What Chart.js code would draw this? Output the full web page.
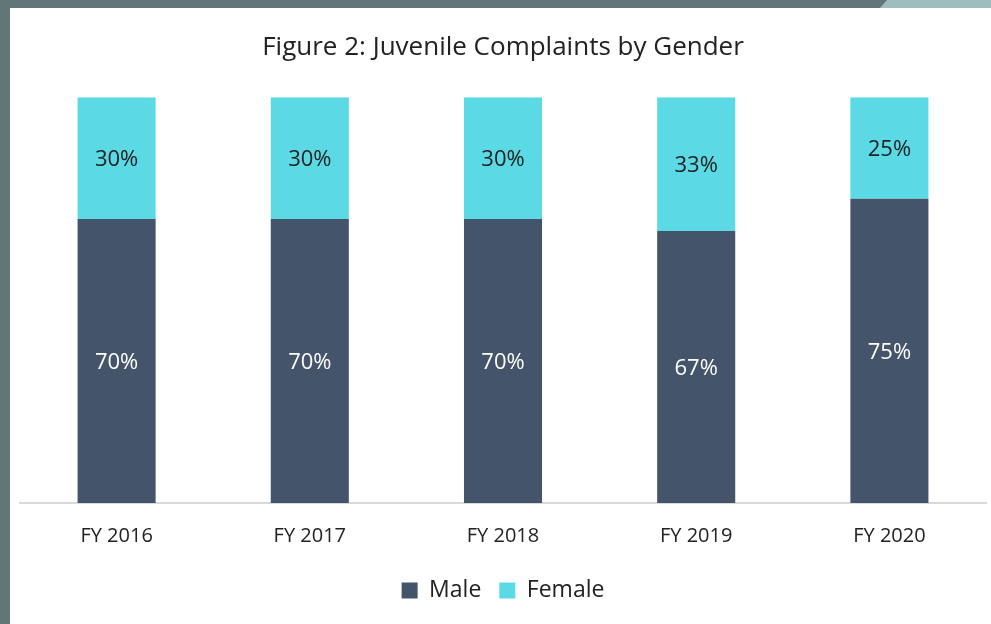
<!DOCTYPE html>
<html>
<head>
<meta charset="utf-8">
<script src="https://cdn.jsdelivr.net/npm/chart.js@4"></script>
<style>
  html, body { margin: 0; padding: 0; }
  body { width: 991px; height: 624px; background: #627577; position: relative; overflow: hidden; }
  #corner { position: absolute; left: 0; top: 0; width: 991px; height: 8px; background: #9dbdbe;
            clip-path: polygon(887px 0, 991px 0, 991px 8px, 880px 8px); }
  #wrap { position: absolute; left: 10px; top: 8px; width: 981px; height: 616px; background: #fff; }
</style>
</head>
<body>
<div id="corner"></div>
<div id="wrap"><canvas id="mycanvas" width="981" height="616"></canvas></div>
<script>
var years = ["FY 2016", "FY 2017", "FY 2018", "FY 2019", "FY 2020"];
var male = [70, 70, 70, 67, 75];
var female = [30, 30, 30, 33, 25];

// centred value labels inside each bar segment
var barLabels = {
	id: "barLabels",
	afterDatasetsDraw: function(chart) {
		var ctx = chart.ctx;
		ctx.save();
		ctx.font = "22px 'Open Sans'";
		ctx.textAlign = "center";
		ctx.textBaseline = "middle";
		chart.data.datasets.forEach(function(ds, i) {
			var meta = chart.getDatasetMeta(i);
			ctx.fillStyle = i == 0 ? "#ffffff" : "#222222";
			meta.data.forEach(function(bar, j) {
				ctx.fillText(ds.data[j] + "%", bar.x, (bar.y + bar.base) / 2 + 2);
			});
		});
		ctx.restore();
	}
};

var ctx = document.getElementById("mycanvas");
var chart = new Chart(ctx, {
	type: "bar",
	data: {
		labels: years,
		datasets: [
			{ label: "Male", data: male, backgroundColor: "#44546a", borderWidth: 0 },
			{ label: "Female", data: female, backgroundColor: "#5bd9e5", borderWidth: 0 }
		]
	},
	options: {
		responsive: false,
		animation: false,
		layout: { padding: { left: 10, right: 5, top: 0, bottom: 12 } },
		datasets: { bar: { categoryPercentage: 1, barPercentage: 0.404 } },
		scales: {
			x: {
				stacked: true,
				grid: { display: false },
				border: { display: true, color: "#d9d9d9", width: 2 },
				ticks: { color: "#222", padding: 13, font: { family: "'Open Sans'", size: 20 } }
			},
			y: { stacked: true, display: false, min: 0, max: 100 }
		},
		plugins: {
			title: {
				display: true,
				text: "Figure 2: Juvenile Complaints by Gender",
				color: "#222",
				font: { family: "'Open Sans'", size: 26, weight: "normal" },
				padding: { top: 24, bottom: 34 }
			},
			legend: {
				position: "bottom",
				labels: { color: "#222", boxWidth: 16, boxHeight: 16, padding: 18,
					font: { family: "'Open Sans'", size: 23 } }
			},
			tooltip: { enabled: false }
		}
	},
	plugins: [barLabels]
});
</script>
</body>
</html>
